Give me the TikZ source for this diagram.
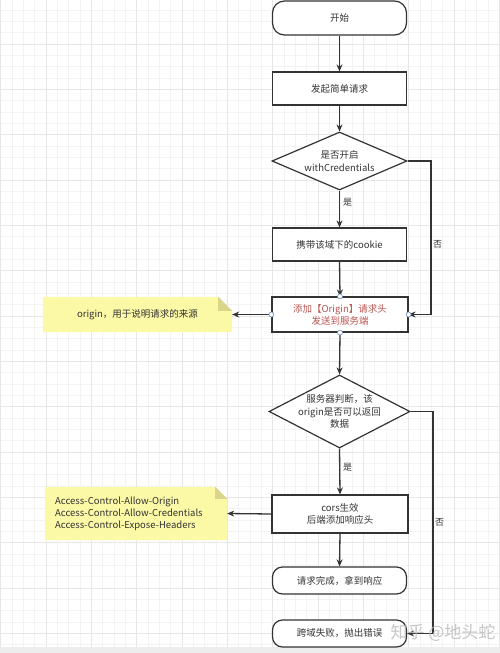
\documentclass[tikz,border=0pt]{standalone}
\usepackage{fontspec}
\setmainfont{Noto Sans CJK SC}
\usetikzlibrary{shapes.geometric,arrows.meta}
\definecolor{ink}{HTML}{333333}
\definecolor{gridminor}{HTML}{F3F3F3}
\definecolor{gridmajor}{HTML}{E6E6E6}
\definecolor{notefill}{HTML}{FBF8A6}
\definecolor{notefold}{HTML}{D9D68C}
\definecolor{redtext}{HTML}{B85450}
\definecolor{portblue}{HTML}{6C8EBF}
\tikzset{
  box/.style={draw=ink, line width=1.2pt, fill=white, minimum width=134pt, minimum height=33pt, inner sep=0pt, align=center, text=ink, font=\fontsize{9.5}{12}\selectfont},
  term/.style={box, rounded corners=12pt},
  endbox/.style={box, rounded corners=10pt, minimum height=27pt},
  dec/.style={diamond, draw=ink, line width=1.2pt, fill=white, inner sep=0pt, aspect=2},
  dectext/.style={align=center, text=ink, font=\fontsize{9.5}{12.5}\selectfont, inner sep=0pt},
  arr/.style={draw=ink, line width=1.3pt, -{Stealth[length=7pt,width=6pt]}},
  lbl/.style={text=ink, font=\fontsize{9}{11}\selectfont, inner sep=1pt},
  notebox/.style={minimum width=189pt, minimum height=35pt, inner sep=0pt, text=ink, font=\fontsize{9.5}{12}\selectfont, align=center},
  port/.style={circle, draw=portblue, fill=white, line width=0.6pt, inner sep=0pt, minimum size=5pt}
}
\begin{document}
\begin{tikzpicture}[x=1pt,y=-1pt]
\useasboundingbox (0,0) rectangle (500,653);
\fill[white] (0,0) rectangle (500,653);
% grid
\foreach \i in {0,...,45}{
  \pgfmathsetmacro{\gx}{0.67+11.333*\i}
  \draw[gridminor, line width=0.5pt] (\gx,0) -- (\gx,653);
}
\foreach \i in {0,...,58}{
  \pgfmathsetmacro{\gy}{-1.3+11.333*\i}
  \draw[gridminor, line width=0.5pt] (0,\gy) -- (500,\gy);
}
\foreach \i in {0,...,11}{
  \pgfmathsetmacro{\gx}{0.67+45.333*\i}
  \draw[gridmajor, line width=0.7pt] (\gx,0) -- (\gx,653);
}
\foreach \i in {0,...,15}{
  \pgfmathsetmacro{\gy}{-1.3+45.333*\i}
  \draw[gridmajor, line width=0.7pt] (0,\gy) -- (500,\gy);
}
\fill[black!7] (0,647) rectangle (500,653);

% nodes
\node[term, minimum height=34pt] (start) at (339.5,18) {开始};
\node[box] (b2) at (339.5,88.5) {发起简单请求};
\node[dec, minimum width=135pt, minimum height=58pt] (d1) at (339.5,161) {};
\node[dectext] (d1t) at (d1.center) {是否开启\\withCredentials};
\node[box] (b3) at (339.5,244.5) {携带该域下的cookie};
\node[box, minimum width=136pt, minimum height=35pt, text=redtext] (b4) at (340,314.5) {添加【Origin】请求头\\发送到服务端};
\node[dec, minimum width=141pt, minimum height=73pt] (d2) at (339.5,411.5) {};
\node[dectext] (d2t) at (d2.center) {服务器判断，该\\origin是否可以返回\\数据};
\node[box, minimum width=136pt, minimum height=38pt] (b5) at (340,514) {cors生效\\后端添加响应头};
\node[endbox] (e1) at (339.5,580.5) {请求完成，拿到响应};
\node[endbox] (e2) at (339.5,633.5) {跨域失败，抛出错误};

% notes
\node[notebox] (n1) at (137.5,314.5) {};
\fill[notefill] (n1.south west) -- (n1.north west) -- ([xshift=-14pt]n1.north east) -- ([yshift=-14pt]n1.north east) -- (n1.south east) -- cycle;
\fill[notefold] ([xshift=-14pt]n1.north east) -- ([xshift=-14pt,yshift=-14pt]n1.north east) -- ([yshift=-14pt]n1.north east) -- cycle;
\node[text=ink, font=\fontsize{9.5}{12}\selectfont, inner sep=0pt] (n1t) at (n1.center) {origin，用于说明请求的来源};

\node[notebox, minimum width=182pt, minimum height=53pt] (n2) at (136,513.5) {};
\fill[notefill] (n2.south west) -- (n2.north west) -- ([xshift=-12pt]n2.north east) -- ([yshift=-12pt]n2.north east) -- (n2.south east) -- cycle;
\fill[notefold] ([xshift=-12pt]n2.north east) -- ([xshift=-12pt,yshift=-12pt]n2.north east) -- ([yshift=-12pt]n2.north east) -- cycle;
\node[text=ink, font=\fontsize{9.5}{12}\selectfont, inner sep=0pt, align=left, anchor=west] (n2t) at (55,514) {Access-Control-Allow-Origin\\Access-Control-Allow-Credentials\\Access-Control-Expose-Headers};

% helper coordinates
\coordinate (c1) at (431,314.5);
\coordinate (c2) at (433,633.5);

% connectors
\draw[arr] (start.south) -- (b2.north);
\draw[arr] (b2.south) -- (d1.north);
\draw[arr] (d1.south) -- (b3.north);
\node[lbl, anchor=west] (y1) at (342,202) {是};
\draw[arr] (b3.south) -- (b4.north);
\draw[arr] (d1.east) -| (c1) -- (b4.east);
\node[lbl, anchor=west] (no1) at (432,244) {否};
\draw[arr] (b4.west) -- (n1.east);
\draw[arr] (b4.south) -- (d2.north);
\draw[arr] (d2.south) -- (b5.north);
\node[lbl, anchor=west] (y2) at (342,467) {是};
\draw[arr] (d2.east) -| (c2) -- (e2.east);
\node[lbl, anchor=west] (no2) at (434,522) {否};
\draw[arr] (b5.west) -- (n2.east);
\draw[arr] (b5.south) -- (e1.north);

% ports on b4
\foreach \a in {north,south,west,east}{
  \node[port] at (b4.\a) {};
}

% watermark
\node[text=black!28, opacity=0.8, font=\fontsize{17}{20}\selectfont, inner sep=0pt] (wm) at (443,633) {知乎 @地头蛇};
\end{tikzpicture}
\end{document}
